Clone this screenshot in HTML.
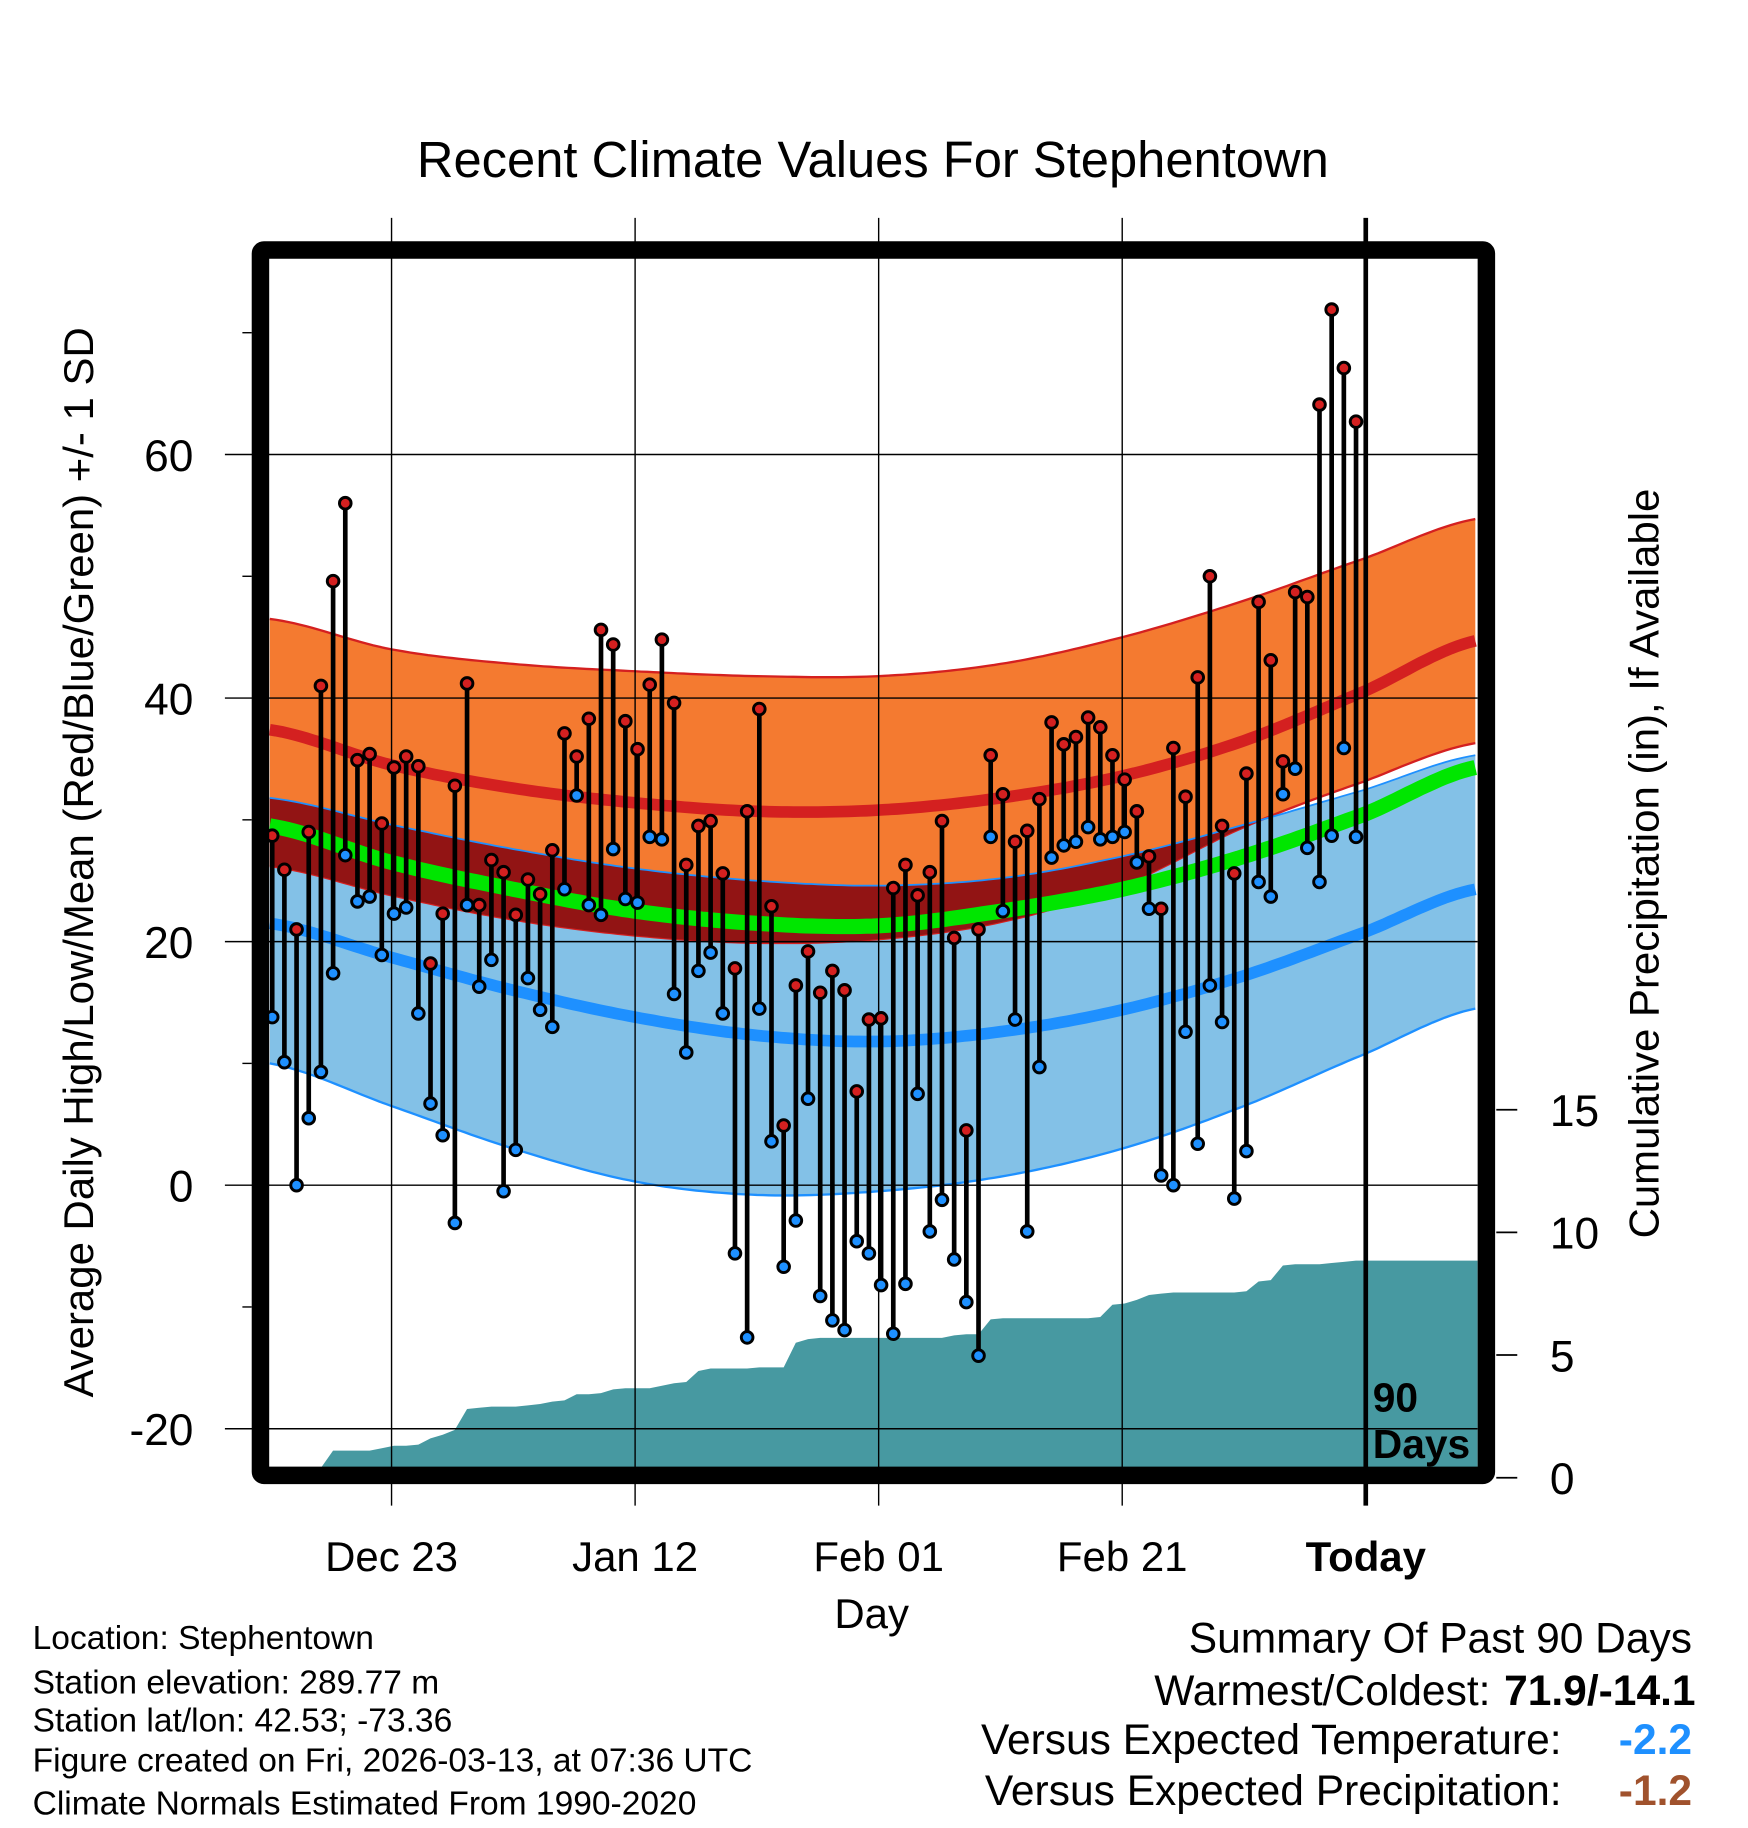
<!DOCTYPE html>
<html><head><meta charset="utf-8">
<style>
html,body{margin:0;padding:0;background:#fff;}
svg{display:block;}
text{font-family:"Liberation Sans",sans-serif;fill:#000;}
</style></head>
<body>
<svg id="chart" width="1748" height="1828" viewBox="0 0 1500 1568.6" preserveAspectRatio="none" xmlns="http://www.w3.org/2000/svg">
<text x="749" y="152" font-size="43.5" text-anchor="middle">Recent Climate Values For Stephentown</text>
<g id="plot"></g>
<text transform="translate(80,740) rotate(-90)" font-size="36" text-anchor="middle">Average Daily High/Low/Mean (Red/Blue/Green) +/- 1 SD</text>
<text transform="translate(1423,741) rotate(-90)" font-size="36" text-anchor="middle">Cumulative Precipitation (in), If Available</text>
<text x="748" y="1397" font-size="36" text-anchor="middle">Day</text>
<g font-size="28.8">
<text x="28" y="1415">Location: Stephentown</text>
<text x="28" y="1453">Station elevation: 289.77 m</text>
<text x="28" y="1486">Station lat/lon: 42.53; -73.36</text>
<text x="28" y="1520">Figure created on Fri, 2026-03-13, at 07:36 UTC</text>
<text x="28" y="1557">Climate Normals Estimated From 1990-2020</text>
</g>
<g font-size="36.5">
<text x="1452" y="1418" text-anchor="end">Summary Of Past 90 Days</text>
<text x="1279" y="1463" text-anchor="end">Warmest/Coldest:</text>
<text x="1455" y="1463" text-anchor="end" font-weight="bold">71.9/-14.1</text>
<text x="1340" y="1505" text-anchor="end">Versus Expected Temperature:</text>
<text x="1452" y="1505" text-anchor="end" font-weight="bold" style="fill:#1e90ff">-2.2</text>
<text x="1340" y="1549" text-anchor="end">Versus Expected Precipitation:</text>
<text x="1452" y="1549" text-anchor="end" font-weight="bold" style="fill:#a0522d">-1.2</text>
</g>
</svg>
<script>
// ---- data ----
const highs = [28.7,25.9,21,29,41,49.6,56,34.9,35.4,29.7,34.3,35.2,34.4,18.2,22.3,32.8,41.2,23,26.7,25.7,22.2,25.1,23.9,27.5,37.1,35.2,38.3,45.6,44.4,38.1,35.8,41.1,44.8,39.6,26.3,29.5,29.9,25.6,17.8,30.7,39.1,22.9,4.9,16.4,19.2,15.8,17.6,16,7.7,13.6,13.7,24.4,26.3,23.8,25.7,29.9,20.3,4.5,21,35.3,32.1,28.2,29.1,31.7,38,36.2,36.8,38.4,37.6,35.3,33.3,30.7,27,22.7,35.9,31.9,41.7,50,29.5,25.6,33.8,47.9,43.1,34.8,48.7,48.3,64.1,71.9,67.1,62.7];
const lows = [13.8,10.1,0,5.5,9.3,17.4,27.1,23.3,23.7,18.9,22.3,22.8,14.1,6.7,4.1,-3.1,23,16.3,18.5,-0.5,2.9,17,14.4,13,24.3,32,23,22.2,27.6,23.5,23.2,28.6,28.4,15.7,10.9,17.6,19.1,14.1,-5.6,-12.5,14.5,3.6,-6.7,-2.9,7.1,-9.1,-11.1,-11.9,-4.6,-5.6,-8.2,-12.2,-8.1,7.5,-3.8,-1.2,-6.1,-9.6,-14,28.6,22.5,13.6,-3.8,9.7,26.9,27.9,28.2,29.4,28.4,28.6,29,26.5,22.7,0.8,0,12.6,3.4,16.4,13.4,-1.1,2.8,24.9,23.7,32.1,34.2,27.7,24.9,28.7,35.9,28.6];
const precip = [0.2,0.25,0.3,0.35,0.4,1.1,1.1,1.1,1.1,1.2,1.3,1.3,1.35,1.6,1.75,1.95,2.8,2.85,2.9,2.9,2.9,2.95,3.0,3.1,3.15,3.4,3.4,3.45,3.6,3.65,3.65,3.65,3.75,3.85,3.9,4.35,4.45,4.45,4.45,4.45,4.5,4.5,4.5,5.5,5.65,5.7,5.7,5.7,5.7,5.7,5.7,5.7,5.7,5.7,5.7,5.7,5.8,5.85,5.85,6.45,6.5,6.5,6.5,6.5,6.5,6.5,6.5,6.5,6.55,7.05,7.1,7.25,7.45,7.5,7.55,7.55,7.55,7.55,7.55,7.55,7.6,8.0,8.05,8.65,8.7,8.7,8.7,8.75,8.8,8.85];
const normDays = [-90,-80,-70,-60,-50,-40,-30,-20,-10,0,9];
const highMean = [37.4,34.5,32.6,31.4,30.7,30.8,31.8,33.6,36.5,40.6,44.7];
const highTop = [46.5,44,42.8,42.2,41.8,41.8,42.8,45,48,51.5,54.7];
const highBot = [26.2,23.8,21.8,20.5,19.9,20.2,21.6,24.6,29.4,33.2,36.3];
const meanT = [29.5,26.5,24.3,22.5,21.5,21.3,22.5,24.3,27,30.5,34.3];
const lowMean = [21.5,18.7,16,13.8,12.3,11.8,12.6,14.4,17.2,20.8,24.3];
const lowTop = [31.8,29.6,27.6,26,25,24.6,25.2,27,29.6,32.5,35.3];
const lowBot = [10,6.5,3,0.3,-0.8,-0.5,0.7,3,6.5,10.8,14.5];
const yTicks = [60,40,20,0,-20];
const y2Ticks = [0,5,10,15];
const xTickDays = [-80,-60,-40,-20,0];
const xTickLabels = ["Dec 23","Jan 12","Feb 01","Feb 21","Today"];

// ---- scales ----
const L=231,R=1268,T=222,B=1259;
const xS = d => 1172 + d*10.45;
const yS = v => 1017 - v*10.45;
const pS = p => 1268 - p*21.05;
const NS="http://www.w3.org/2000/svg";
const plot=document.getElementById('plot');
function mk(tag,attrs,parent){const e=document.createElementNS(NS,tag);for(const k in attrs)e.setAttribute(k,attrs[k]);(parent||plot).appendChild(e);return e;}
function interp(arr,d){
  let i=0; while(i<normDays.length-2 && d>normDays[i+1]) i++;
  const t=(d-normDays[i])/(normDays[i+1]-normDays[i]);
  const p0=arr[Math.max(i-1,0)],p1=arr[i],p2=arr[i+1],p3=arr[Math.min(i+2,arr.length-1)];
  const t2=t*t,t3=t2*t;
  return 0.5*((2*p1)+(-p0+p2)*t+(2*p0-5*p1+4*p2-p3)*t2+(-p0+3*p1-3*p2+p3)*t3);
}
const sampleDays=[];for(let d=-90;d<=9.2;d+=0.5)sampleDays.push(d);
function line(arr){return sampleDays.map((d,i)=>(i?'L':'M')+xS(d).toFixed(1)+','+yS(interp(arr,d)).toFixed(1)).join('');}
function band(top,bot){return line(top)+sampleDays.slice().reverse().map(d=>'L'+xS(d).toFixed(1)+','+yS(interp(bot,d)).toFixed(1)).join('')+'Z';}

mk('clipPath',{id:'pc'}); mk('rect',{x:L,y:T,width:R-L,height:B-T},plot.lastChild);
const g=mk('g',{'clip-path':'url(#pc)'});

let e;
e=mk('path',{d:band(lowTop,lowBot),fill:'#83c1e7'},g);


e=mk('path',{d:line(lowBot),fill:'none',stroke:'#1e90ff','stroke-width':2},g);


e=mk('path',{d:band(highTop,highBot),fill:'#f47a30'},g);


e=mk('path',{d:line(highTop),fill:'none',stroke:'#d42020','stroke-width':2},g);


e=mk('path',{d:line(highBot),fill:'none',stroke:'#d42020','stroke-width':2},g);


const ov=sampleDays.map((d,i)=>(i?'L':'M')+xS(d).toFixed(1)+','+yS(interp(lowTop,d)).toFixed(1)).join('')+
 sampleDays.slice().reverse().map(d=>'L'+xS(d).toFixed(1)+','+yS(Math.min(interp(highBot,d),interp(lowTop,d))).toFixed(1)).join('')+'Z';
e=mk('path',{d:ov,fill:'#921414'},g);


e=mk('path',{d:line(lowTop),fill:'none',stroke:'#1e90ff','stroke-width':1.5},g);



yTicks.forEach(v=>{e=mk('line',{x1:193,x2:R,y1:yS(v),y2:yS(v),stroke:'#000','stroke-width':1.2});

});
xTickDays.forEach((d,i)=>{ if(i<4){e=mk('line',{x1:xS(d),x2:xS(d),y1:187,y2:1292,stroke:'#000','stroke-width':1.2});

}});

e=mk('path',{d:line(meanT),fill:'none',stroke:'#00e600','stroke-width':13},g);


e=mk('path',{d:line(highMean),fill:'none',stroke:'#d42020','stroke-width':10},g);


e=mk('path',{d:line(lowMean),fill:'none',stroke:'#1e90ff','stroke-width':10},g);



let pd='M'+xS(-90)+','+B;
precip.forEach((p,i)=>{pd+='L'+xS(i-89.8).toFixed(1)+','+pS(p).toFixed(1);});
pd+='L'+R+','+pS(precip[precip.length-1]).toFixed(1)+'L'+R+','+B+'Z';
e=mk('path',{d:pd,fill:'#4799a1'},g);



highs.forEach((h,i)=>{
  const x=xS(i-89.8);
  e=mk('line',{x1:x,x2:x,y1:yS(h),y2:yS(lows[i]),stroke:'#000','stroke-width':4});
  
  
});
highs.forEach((h,i)=>{
  const x=xS(i-89.8);
  e=mk('circle',{cx:x,cy:yS(lows[i]),r:5,fill:'#1e90ff',stroke:'#000','stroke-width':2.5});
  
  
  e=mk('circle',{cx:x,cy:yS(h),r:5,fill:'#d42020',stroke:'#000','stroke-width':2.5});
  
  
});

e=mk('line',{x1:xS(0),x2:xS(0),y1:187,y2:1292,stroke:'#000','stroke-width':4});


e=mk('text',{x:1178,y:1211,'font-size':35,'font-weight':'bold'});e.textContent='90';


e=mk('text',{x:1178,y:1251,'font-size':35,'font-weight':'bold'});e.textContent='Days';



e=mk('rect',{x:223.5,y:214.5,width:1052,height:1051.5,fill:'none',stroke:'#000','stroke-width':15,rx:3});



[70,50,30,10,-10].forEach(v=>{e=mk('line',{x1:208,x2:216,y1:yS(v),y2:yS(v),stroke:'#000','stroke-width':1.2});

});
yTicks.forEach(v=>{e=mk('text',{x:166,y:yS(v)+14,'font-size':38,'text-anchor':'end'});e.textContent=String(v);

});
y2Ticks.forEach(p=>{e=mk('line',{x1:1284,x2:1302,y1:pS(p),y2:pS(p),stroke:'#000','stroke-width':1.5});


e=mk('text',{x:1330,y:pS(p)+14,'font-size':38});e.textContent=String(p);

});
xTickDays.forEach((d,i)=>{e=mk('text',{x:xS(d),y:1348,'font-size':36,'text-anchor':'middle'});e.textContent=xTickLabels[i];
if(i===4)e.setAttribute('font-weight','bold');

});
</script>
</body></html>
